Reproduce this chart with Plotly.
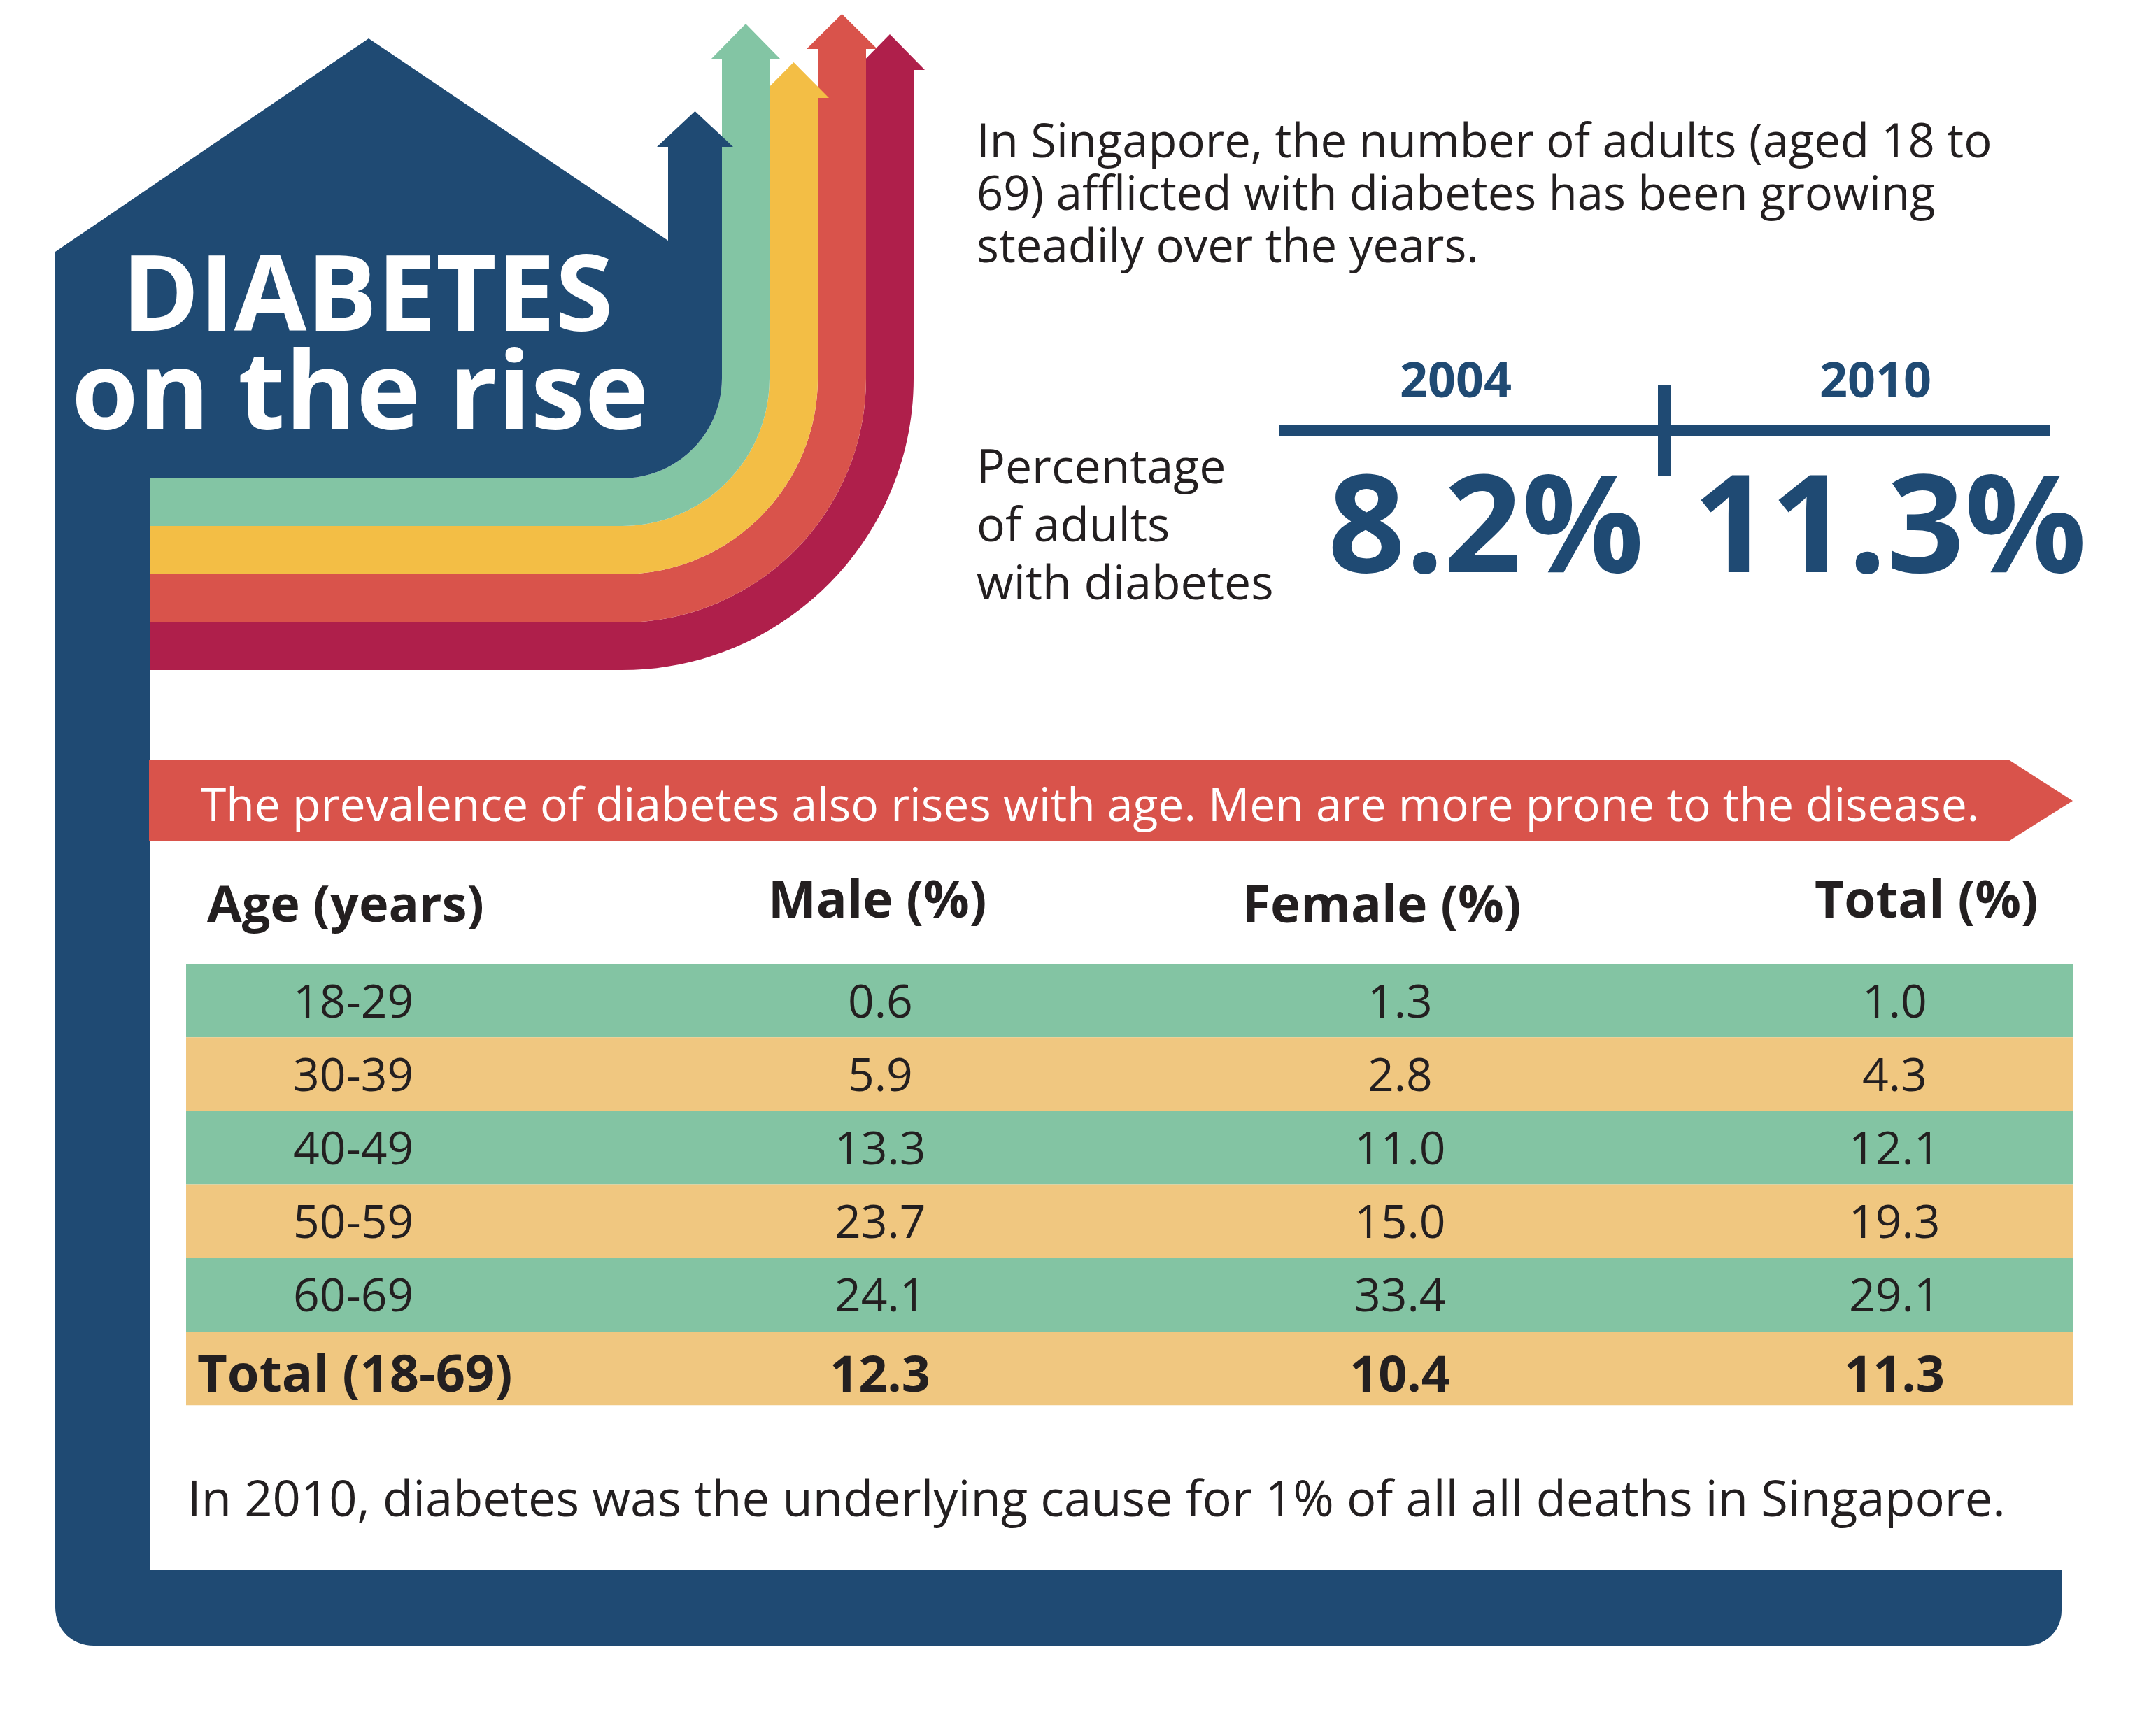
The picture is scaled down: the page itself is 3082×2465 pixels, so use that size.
import plotly.graph_objects as go

# data
age_groups = ["18-29", "30-39", "40-49", "50-59", "60-69"]
male_pct = [0.6, 5.9, 13.3, 23.7, 24.1]
female_pct = [1.3, 2.8, 11.0, 15.0, 33.4]
total_pct = [1.0, 4.3, 12.1, 19.3, 29.1]
overall_label = "Total (18-69)"
overall_values = [12.3, 10.4, 11.3]
headers = ["Age (years)", "Male (%)", "Female (%)", "Total (%)"]
years = ["2004", "2010"]
year_pct = [8.2, 11.3]

# colours
BLUE = "#1F4A73"
GREEN = "#83C5A4"
YELLOW = "#F3BE45"
RED = "#D9534B"
CRIMSON = "#AF1F4B"
ROW_GREEN = "#83C4A3"
ROW_TAN = "#F0C780"
INK = "#231F20"
FONT = "Open Sans"

K = 0.5523  # bezier quarter-circle constant


def band_path(ri, ro, head_base, tip, cx=889, cy=541, left=214, oh=16):
    mid = cx + (ri + ro) / 2
    return (f"M {left},{cy+ri} H {cx} "
            f"C {cx+K*ri},{cy+ri} {cx+ri},{cy+K*ri} {cx+ri},{cy} "
            f"V {head_base} H {cx+ri-oh} L {mid},{tip} L {cx+ro+oh},{head_base} H {cx+ro} "
            f"V {cy} C {cx+ro},{cy+K*ro} {cx+K*ro},{cy+ro} {cx},{cy+ro} H {left} Z")


radii = [143, 211, 280, 349, 417]
band_colors = [GREEN, YELLOW, RED, CRIMSON]
head_bases = [85, 140, 70, 100]
tips = [34, 89, 20, 49]

shapes = []
# bands, outermost first so inner ones sit on top
for i in [3, 2, 1, 0]:
    shapes.append(dict(type="path", path=band_path(radii[i], radii[i + 1], head_bases[i], tips[i]),
                       fillcolor=band_colors[i], line=dict(width=0), layer="above"))

# blue house + frame
r0 = radii[0]
house = (f"M 79,360 L 527,55 L 955,344 V 210 H 939 L 993.5,159 L 1048,210 H {889+r0} "
         f"V 541 C {889+r0},{541+K*r0} {889+K*r0},{541+r0} 889,{541+r0} H 214 V 2245 H 2947 "
         f"V 2303 C 2947,2331 2925,2353 2897,2353 H 134 C 104,2353 79,2331 79,2298 Z")
shapes.append(dict(type="path", path=house, fillcolor=BLUE, line=dict(width=0)))

# red banner arrow
shapes.append(dict(type="path", path="M 213,1086 H 2871 L 2963,1145 L 2871,1203 H 213 Z",
                   fillcolor=RED, line=dict(width=0)))

# year divider
shapes.append(dict(type="rect", x0=1829, x1=2930, y0=608, y1=624, fillcolor=BLUE, line=dict(width=0)))
shapes.append(dict(type="rect", x0=2370, x1=2388, y0=550, y1=681, fillcolor=BLUE, line=dict(width=0)))

# table rows
row_top = 1378
row_h = 105.2
n_rows = len(age_groups) + 1
for i in range(n_rows):
    shapes.append(dict(type="rect", x0=266, x1=2963, y0=row_top + i * row_h, y1=row_top + (i + 1) * row_h,
                       fillcolor=ROW_GREEN if i % 2 == 0 else ROW_TAN, line=dict(width=0), layer="below"))

ann = []


def txt(x, y, s, size, color=INK, weight=400, xanchor="left"):
    ann.append(dict(x=x, y=y, xref="x", yref="y", text=s, showarrow=False,
                    xanchor=xanchor, yanchor="middle",
                    font=dict(family=FONT, size=size, color=color, weight=weight)))


# title
txt(172, 473 - 0.39 * 150, "DIABETES", 150, "white", 700)
txt(100, 613 - 0.39 * 155, "on the rise", 155, "white", 700)

# intro
intro = ["In Singapore, the number of adults (aged 18 to",
         "69) afflicted with diabetes has been growing",
         "steadily over the years."]
for j, line in enumerate(intro):
    txt(1394, 225 + j * 75 - 0.39 * 67, line, 67)

for j, line in enumerate(["Percentage", "of adults", "with diabetes"]):
    txt(1394, 691 + j * 83 - 0.39 * 68, line, 68)

year_x = [2081, 2681]
pct_x = [2124, 2701]
for j in range(2):
    txt(year_x[j], 541, years[j], 70, BLUE, 700, "center")
    txt(pct_x[j], 743, f"{year_pct[j]:.1f}%", 194, BLUE, 700, "center")

# banner
txt(285, 1148, "The prevalence of diabetes also rises with age. Men are more prone to the disease.", 66, "white")

# header
txt(294, 1290, headers[0], 72, INK, 700)
txt(1254, 1283, headers[1], 73, INK, 700, "center")
txt(1975, 1290, headers[2], 73, INK, 700, "center")
txt(2754, 1283, headers[3], 73, INK, 700, "center")

col_x = [1258, 2001, 2708]
for i, age in enumerate(age_groups):
    yc = row_top + (i + 0.5) * row_h - 2
    txt(505, yc, age, 66, INK, 400, "center")
    for cx, v in zip(col_x, [male_pct[i], female_pct[i], total_pct[i]]):
        txt(cx, yc, f"{v:.1f}", 66, INK, 400, "center")

yc = row_top + (n_rows - 0.5) * row_h + 5
txt(280, yc, overall_label, 74, INK, 700)
for cx, v in zip(col_x, overall_values):
    txt(cx, yc, f"{v:.1f}", 72, INK, 700, "center")

txt(266, 2141, "In 2010, diabetes was the underlying cause for 1% of all all deaths in Singapore.", 70.5)

fig = go.Figure()
fig.add_trace(go.Scatter(x=[0], y=[0], mode="markers", marker=dict(opacity=0), hoverinfo="skip", showlegend=False))

W, H = 3060, 2440
fig.update_layout(
    width=W, height=H,
    margin=dict(l=0, r=0, t=0, b=0),
    paper_bgcolor="white", plot_bgcolor="white",
    xaxis=dict(range=[8, 8 + W], visible=False, fixedrange=True),
    yaxis=dict(range=[8 + H, 8], visible=False, fixedrange=True),
    shapes=shapes,
    annotations=ann,
    showlegend=False,
)

fig.write_html("out.html")
